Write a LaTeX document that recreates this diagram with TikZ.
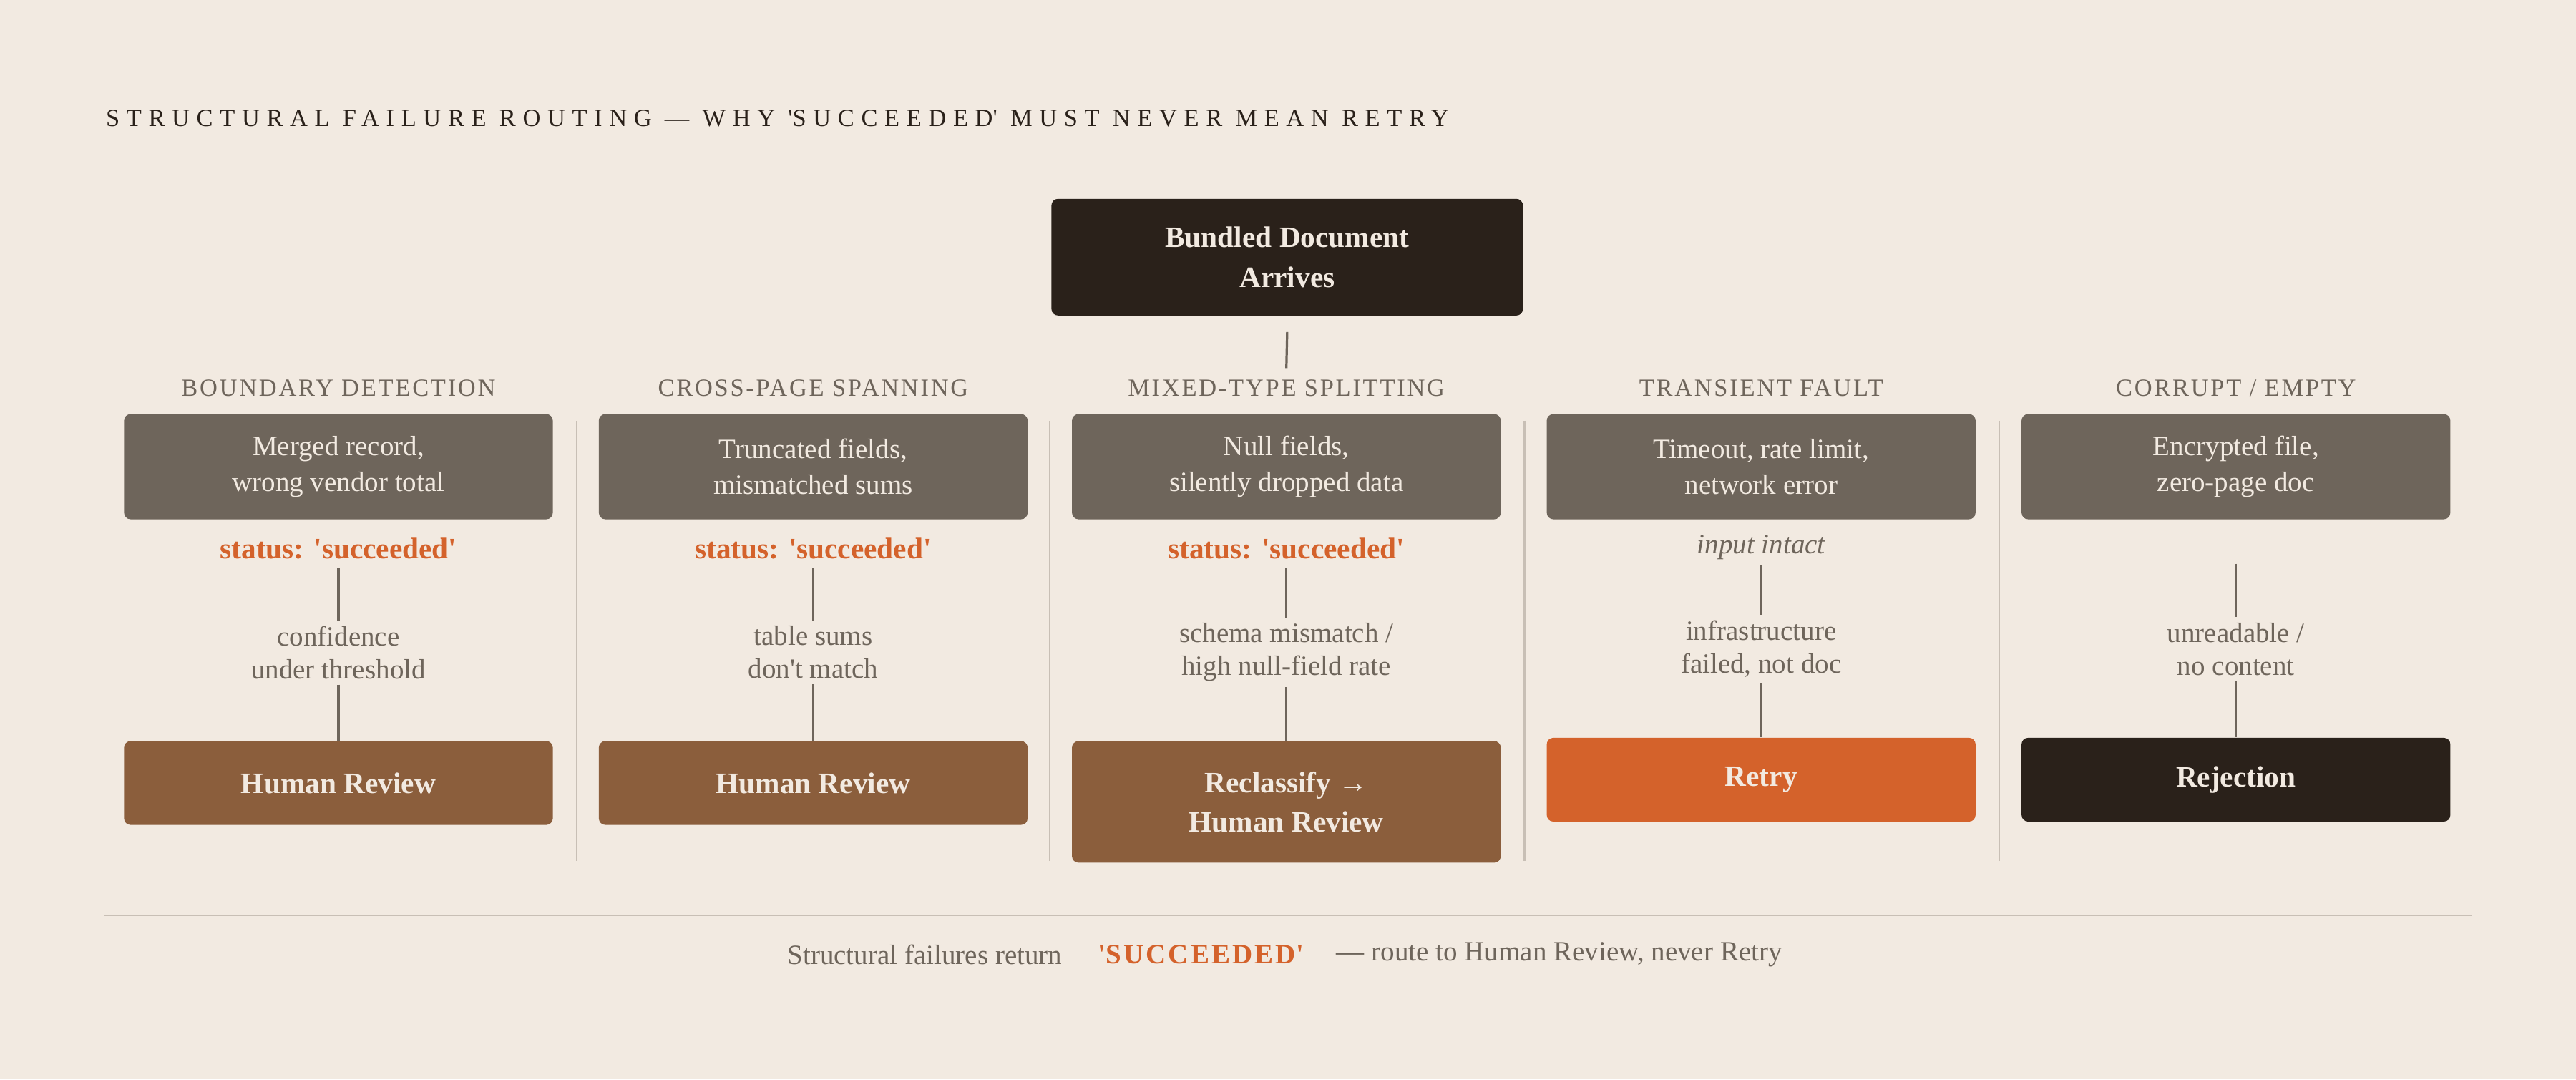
\documentclass[tikz,border=0pt]{standalone}
\usepackage{fontspec}
\setmainfont{Liberation Serif}
\newfontfamily\spaced[LetterSpace=28]{Liberation Serif}
\newfontfamily\capsp[LetterSpace=8]{Liberation Serif}
\newcommand{\q}{\textquotesingle}
\definecolor{paper}{HTML}{F2EAE1}
\definecolor{ink}{HTML}{2A211A}
\definecolor{stone}{HTML}{6E655B}
\definecolor{rust}{HTML}{8B5E3C}
\definecolor{flame}{HTML}{D4622B}
\definecolor{rule}{HTML}{C8BFB5}
\usetikzlibrary{positioning}

\begin{document}
\begin{tikzpicture}[x=1pt, y=-1pt,
	box/.style={rounded corners=4pt, minimum width=261pt, align=center, text=paper, font=\fontsize{17}{22}\selectfont},
	cause/.style={box, fill=stone, minimum height=64pt},
	route/.style={box, fill=rust, font=\fontsize{18}{24}\selectfont\bfseries},
	head/.style={text=stone, font=\capsp\fontsize{15}{17}\selectfont},
	status/.style={text=flame, font=\fontsize{18}{20}\selectfont\bfseries},
	why/.style={text=stone, align=center, font=\fontsize{17}{20}\selectfont},
	link/.style={stone, line width=1.4pt},
	divider/.style={rule, line width=1pt}]

% Background and frame
\fill[paper] (0,0) rectangle (1568,657);
\useasboundingbox (0,0) rectangle (1568,657);

\node[anchor=west, text=ink, font=\spaced\fontsize{15}{17}\selectfont] (title) at (61,72)
	{STRUCTURAL FAILURE ROUTING — WHY \q SUCCEEDED\q{} MUST NEVER MEAN RETRY};

% Entry point
\node[box, fill=ink, minimum width=287pt, minimum height=71pt, font=\fontsize{18}{24}\selectfont\bfseries] (bundle) at (783.5,156.5)
	{Bundled Document\\Arrives};
\coordinate (split) at (783,224);
\draw[link] (bundle.south |- 0,202) -- (split);

% Boundary detection
\node[head] (h1) at (206,236) {BOUNDARY DETECTION};
\node[cause] (c1) at (206,284) {Merged record,\\wrong vendor total};
\node[status] (s1) at (206,334) {status: \q succeeded\q};
\node[why] (w1) at (206,397) {confidence\\under threshold};
\node[route, minimum height=51pt] (r1) at (206,476.5) {Human Review};
\draw[link] (s1.south) ++(0,2) -- (w1.north);
\draw[link] (w1.south) -- (r1.north);

% Cross-page spanning
\node[head] (h2) at (495,236) {CROSS-PAGE SPANNING};
\node[cause] (c2) at (495,284) {Truncated fields,\\mismatched sums};
\node[status] (s2) at (495,334) {status: \q succeeded\q};
\node[why] (w2) at (495,397) {table sums\\don\q t match};
\node[route, minimum height=51pt] (r2) at (495,476.5) {Human Review};
\draw[link] (s2.south) ++(0,2) -- (w2.north);
\draw[link] (w2.south) -- (r2.north);

% Mixed-type splitting
\node[head] (h3) at (783,236) {MIXED-TYPE SPLITTING};
\node[cause] (c3) at (783,284) {Null fields,\\silently dropped data};
\node[status] (s3) at (783,334) {status: \q succeeded\q};
\node[why] (w3) at (783,397) {schema mismatch /\\high null-field rate};
\node[route, minimum height=74pt, font=\fontsize{18}{24}\selectfont\bfseries] (r3) at (783,488)
	{Reclassify →\\Human Review};
\draw[link] (s3.south) ++(0,2) -- (w3.north);
\draw[link] (w3.south) -- (r3.north);

% Transient fault
\node[head] (h4) at (1072,236) {TRANSIENT FAULT};
\node[cause] (c4) at (1072,284) {Timeout, rate limit,\\network error};
\node[why, font=\fontsize{17}{19}\selectfont\itshape] (s4) at (1072,333) {input intact};
\node[why] (w4) at (1072,395) {infrastructure\\failed, not doc};
\node[route, fill=flame, minimum height=51pt] (r4) at (1072,474.5) {Retry};
\draw[link] (s4.south) -- (w4.north);
\draw[link] (w4.south) -- (r4.north);

% Corrupt / empty
\node[head] (h5) at (1361,236) {CORRUPT / EMPTY};
\node[cause] (c5) at (1361,284) {Encrypted file,\\zero-page doc};
\coordinate (s5) at (1361,343);
\node[why] (w5) at (1361,395) {unreadable /\\no content};
\node[route, fill=ink, minimum height=51pt] (r5) at (1361,474.5) {Rejection};
\draw[link] (s5) -- (w5.north);
\draw[link] (w5.south) -- (r5.north);

% Column dividers
\foreach \x in {351,639,928,1217}
	\draw[divider] (\x,256) -- (\x,524);

% Footer
\draw[divider] (63,557) -- (1505,557);
\node[why, anchor=east] (f1) at (650,581) {Structural failures return};
\node[text=flame, font=\capsp\fontsize{17}{20}\selectfont\bfseries] (f2) at (731,581) {\q SUCCEEDED\q};
\node[why, anchor=west] (f3) at (810,581) {— route to Human Review, never Retry};

\end{tikzpicture}
\end{document}
